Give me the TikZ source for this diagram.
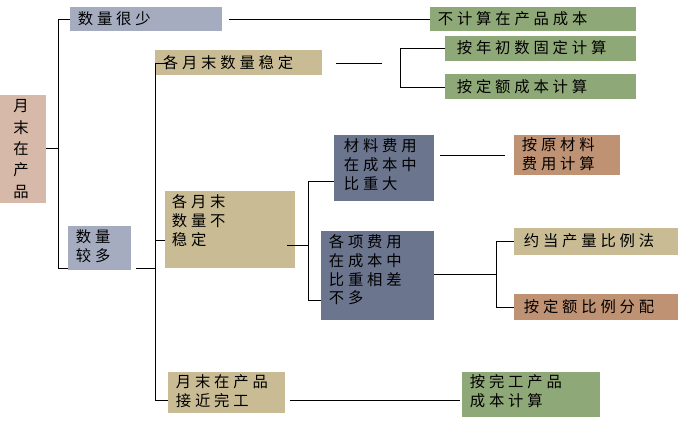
\documentclass[tikz,border=0pt]{standalone}
\usepackage{fontspec}
\setmainfont{Noto Sans CJK SC}[LetterSpace=25]
\tikzset{every picture/.style={line width=0.75pt}}
\definecolor{tanc}{RGB}{201,188,148}
\definecolor{greyb}{RGB}{165,172,192}
\definecolor{greenc}{RGB}{143,168,119}
\definecolor{brownc}{RGB}{192,146,116}
\definecolor{slatec}{RGB}{108,117,142}
\definecolor{pinkc}{RGB}{214,185,168}
\tikzset{box/.style={inner sep=1pt,align=left,font=\fontsize{11.5}{14}\selectfont,anchor=north west}}
\begin{document}
\begin{tikzpicture}[x=0.75pt,y=0.75pt,yscale=-1,xscale=1]
			\useasboundingbox (0,0) rectangle (679,425);

			%Boxes
			\fill[pinkc] (0,95) rectangle (46,203);
			\node[box,anchor=center,align=center,font=\fontsize{11.5}{16}\selectfont] (root) at (21,149) {月\\末\\在\\产\\品};
			\fill[greyb] (70,7) rectangle (222,31);
			\node[box,anchor=west] (few) at (76,19) {数量很少};
			\fill[greenc] (430,7) rectangle (636,31);
			\node[box,anchor=west] (nocost) at (436,19) {不计算在产品成本};
			\fill[tanc] (155,50) rectangle (322,75);
			\node[box,anchor=west] (stable) at (161,63) {各月末数量稳定};
			\fill[greenc] (445,36) rectangle (636,61);
			\node[box,anchor=west] (fixed) at (455,48) {按年初数固定计算};
			\fill[greenc] (445,74) rectangle (636,99);
			\node[box,anchor=west] (quota) at (455,87) {按定额成本计算};
			\fill[greyb] (68,226) rectangle (131,270);
			\node[box] (many) at (74,228) {数量\\较多};
			\fill[tanc] (165,191) rectangle (295,268);
			\node[box] (unstable) at (170,193) {各月末\\数量不\\稳定};
			\fill[slatec] (334,135) rectangle (434,201);
			\node[box] (material) at (342,137) {材料费用\\在成本中\\比重大};
			\fill[brownc] (514,135) rectangle (620,175);
			\node[box] (rawmat) at (520,136) {按原材料\\费用计算};
			\fill[slatec] (321,231) rectangle (434,320);
			\node[box] (equal) at (327,233) {各项费用\\在成本中\\比重相差\\不多};
			\fill[tanc] (514,228) rectangle (678,255);
			\node[box,anchor=west] (equiv) at (522,241) {约当产量比例法};
			\fill[brownc] (514,294) rectangle (678,320);
			\node[box,anchor=west] (ratio) at (522,307) {按定额比例分配};
			\fill[tanc] (168,372) rectangle (285,413);
			\node[box] (done) at (174,373) {月末在产品\\接近完工};
			\fill[greenc] (462,372) rectangle (600,417);
			\node[box] (finished) at (468,373) {按完工产品\\成本计算};

			%Connectors
			\draw (46,148) -- (58,148);
			\draw (70,19) -- (58,19) -- (58,268) -- (68,268);
			\draw (229,19) -- (430,19);
			\draw (136,268) -- (155,268);
			\draw (168,63) -- (155,63) -- (155,400) -- (168,400);
			\draw (155,240) -- (165,240);
			\draw (336,63) -- (382,63);
			\draw (445,48) -- (400,48) -- (400,87) -- (445,87);
			\draw (287,245) -- (308,245);
			\draw (334,181) -- (308,181) -- (308,300) -- (321,300);
			\draw (440,155) -- (505,155);
			\draw (434,274) -- (496,274);
			\draw (514,241) -- (496,241) -- (496,307) -- (514,307);
			\draw (290,400) -- (460,400);
		\end{tikzpicture}
\end{document}
